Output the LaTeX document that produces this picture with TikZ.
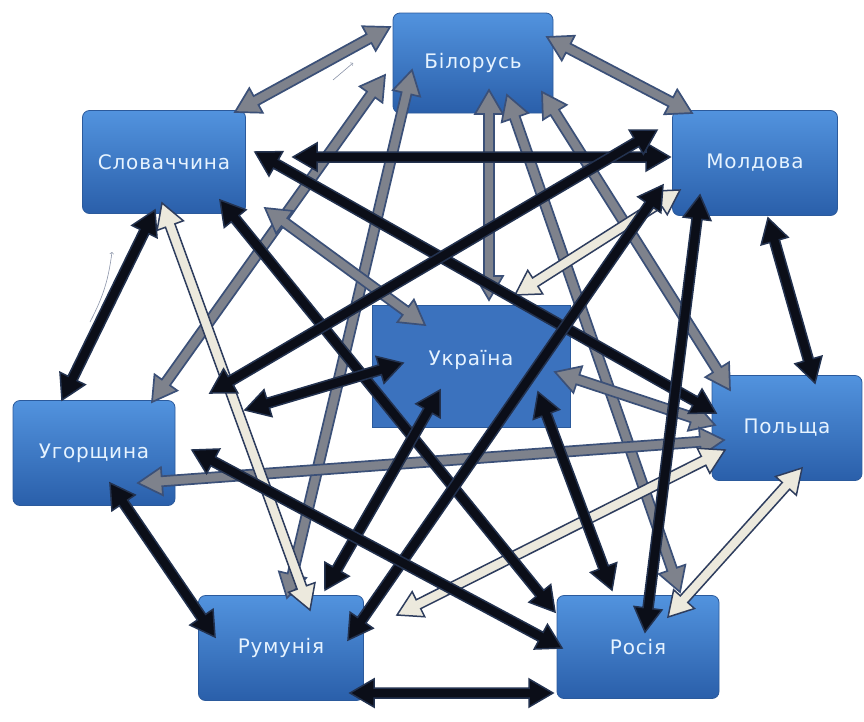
\documentclass[tikz,border=0pt]{standalone}
\usepackage{fontspec}
\newfontfamily\boxfont[LetterSpace=4]{DejaVu Sans}
\usetikzlibrary{calc}

\definecolor{boxTop}{HTML}{5293DE}
\definecolor{boxBottom}{HTML}{2A5FAA}
\definecolor{boxEdge}{HTML}{2B5A9C}
\definecolor{boxText}{HTML}{E6F3FF}
\definecolor{ukrFill}{HTML}{3B72BE}
\definecolor{darkFill}{HTML}{0B0E18}
\definecolor{darkEdge}{HTML}{23324F}
\definecolor{greyFill}{HTML}{7E828C}
\definecolor{greyEdge}{HTML}{3B5078}
\definecolor{lightFill}{HTML}{ECE9DD}
\definecolor{lightEdge}{HTML}{2E3D5E}
\definecolor{strayGrey}{HTML}{8A93A8}

\tikzset{
    country/.style={rectangle, rounded corners=7pt, top color=boxTop, bottom color=boxBottom,
        draw=boxEdge, line width=0.8pt, text=boxText, inner sep=0pt,
        font=\boxfont\fontsize{20}{23}\selectfont},
    centreBox/.style={rectangle, fill=ukrFill, draw=boxEdge, line width=0.8pt, text=boxText,
        inner sep=0pt, font=\boxfont\fontsize{20}{23}\selectfont},
    darkArrow/.style={fill=darkFill, draw=darkEdge, line width=1.5pt, line join=miter},
    greyArrow/.style={fill=greyFill, draw=greyEdge, line width=1.7pt, line join=miter},
    lightArrow/.style={fill=lightFill, draw=lightEdge, line width=1.5pt, line join=miter},
    strayArrow/.style={draw=strayGrey, line width=0.6pt, ->}
}

% sizes of the fat double arrows
\newcommand{\headLen}{24pt}
\newcommand{\headHalf}{14pt}
\newcommand{\shaftHalf}{5pt}

% fat double arrow: style, node, offset, node, offset
\newcommand{\twoway}[5]{%
    \coordinate (tipA) at ($(#2)+(#3)$);
    \coordinate (tipB) at ($(#4)+(#5)$);
    \coordinate (neckA) at ($(tipA)!\headLen!(tipB)$);
    \coordinate (neckB) at ($(tipB)!\headLen!(tipA)$);
    \filldraw[#1] (tipA) -- ($(neckA)!\headHalf!90:(tipB)$) -- ($(neckA)!\shaftHalf!90:(tipB)$)
        -- ($(neckB)!\shaftHalf!-90:(tipA)$) -- ($(neckB)!\headHalf!-90:(tipA)$) -- (tipB)
        -- ($(neckB)!\headHalf!90:(tipA)$) -- ($(neckB)!\shaftHalf!90:(tipA)$)
        -- ($(neckA)!\shaftHalf!-90:(tipB)$) -- ($(neckA)!\headHalf!-90:(tipB)$) -- cycle;
}

\begin{document}
\begin{tikzpicture}[x=1pt, y=1pt, yscale=-1]
    % Canvas
    \fill[white] (0,0) rectangle (864,721);
    \useasboundingbox (0,0) rectangle (864,721);

    % Define the positions of the boxes
    \coordinate (belarusPos) at (473,63);
    \coordinate (slovakiaPos) at (164,162);
    \coordinate (moldovaPos) at (755,163);
    \coordinate (ukrainePos) at (471,366);
    \coordinate (hungaryPos) at (94,453);
    \coordinate (polandPos) at (787,428);
    \coordinate (romaniaPos) at (281,648);
    \coordinate (russiaPos) at (638,647);

    % Draw the boxes
    \node[country, minimum width=160pt, minimum height=100pt] (belarus) at (belarusPos) {Білорусь};
    \node[country, minimum width=163pt, minimum height=103pt] (slovakia) at (slovakiaPos) {Словаччина};
    \node[country, minimum width=165pt, minimum height=105pt] (moldova) at (moldovaPos) {Молдова};
    \node[centreBox, minimum width=198pt, minimum height=122pt] (ukraine) at (ukrainePos) {\raisebox{16pt}{Україна}};
    \node[country, minimum width=162pt, minimum height=105pt] (hungary) at (hungaryPos) {Угорщина};
    \node[country, minimum width=150pt, minimum height=105pt] (poland) at (polandPos) {Польща};
    \node[country, minimum width=165pt, minimum height=105pt] (romania) at (romaniaPos) {Румунія};
    \node[country, minimum width=162pt, minimum height=103pt] (russia) at (russiaPos) {Росія};

    % Grey links
    \twoway{greyArrow}{belarus}{-83,-36}{slovakia}{71,-50}
    \twoway{greyArrow}{belarus}{74,-26}{moldova}{-63,-50}
    \twoway{greyArrow}{belarus}{16,27}{ukraine}{18,-66}
    \twoway{greyArrow}{belarus}{-88,12}{hungary}{58,-51}
    \twoway{greyArrow}{belarus}{-61,7}{romania}{6,-50}
    \twoway{greyArrow}{belarus}{69,29}{poland}{-57,-38}
    \twoway{greyArrow}{belarus}{34,32}{russia}{42,-55}
    \twoway{greyArrow}{slovakia}{101,46}{ukraine}{-46,-41}
    \twoway{greyArrow}{ukraine}{84,6}{poland}{-72,-3}
    \twoway{greyArrow}{hungary}{44,30}{poland}{-63,12}

    % Light links
    \twoway{lightArrow}{slovakia}{-2,41}{romania}{29,-38}
    \twoway{lightArrow}{moldova}{-75,27}{ukraine}{44,-71}
    \twoway{lightArrow}{romania}{116,-33}{poland}{-62,22}
    \twoway{lightArrow}{poland}{15,40}{russia}{30,-30}

    % Dark links
    \twoway{darkArrow}{slovakia}{129,-5}{moldova}{-85,-6}
    \twoway{darkArrow}{slovakia}{-9,48}{hungary}{-32,-53}
    \twoway{darkArrow}{slovakia}{56,38}{russia}{-83,-35}
    \twoway{darkArrow}{slovakia}{91,-10}{poland}{-71,-15}
    \twoway{darkArrow}{moldova}{13,55}{poland}{28,-45}
    \twoway{darkArrow}{moldova}{-55,32}{russia}{7,-15}
    \twoway{darkArrow}{moldova}{-92,22}{romania}{67,-8}
    \twoway{darkArrow}{moldova}{-98,-33}{hungary}{116,-60}
    \twoway{darkArrow}{ukraine}{-68,-3}{hungary}{151,-43}
    \twoway{darkArrow}{ukraine}{-31,24}{romania}{44,-58}
    \twoway{darkArrow}{ukraine}{67,26}{russia}{-26,-57}
    \twoway{darkArrow}{hungary}{16,30}{romania}{-66,-11}
    \twoway{darkArrow}{hungary}{98,-3}{russia}{-76,1}
    \twoway{darkArrow}{romania}{69,45}{russia}{-85,46}

    % Stray thin arrows
    \coordinate (strayA) at (90,322);
    \coordinate (strayB) at (112,252);
    \coordinate (strayC) at (333,80);
    \coordinate (strayD) at (353,63);
    \draw[strayArrow] (strayA) to[bend left=10] (strayB);
    \draw[strayArrow] (strayC) -- (strayD);
\end{tikzpicture}
\end{document}
